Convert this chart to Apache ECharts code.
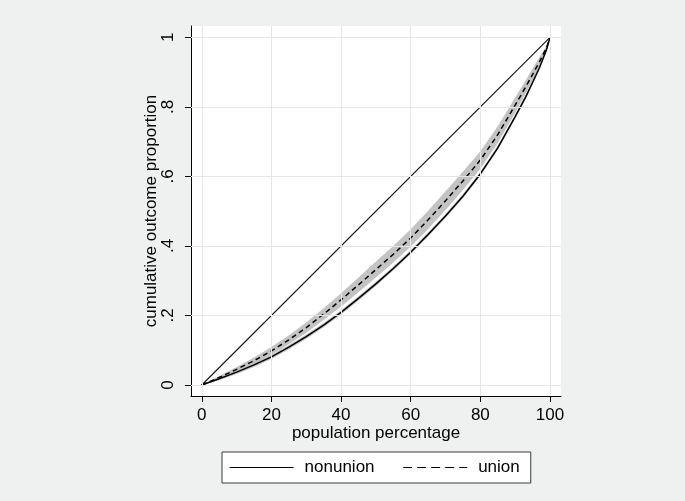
<!DOCTYPE html>
<html>
<head>
<meta charset="utf-8">
<script src="https://cdn.jsdelivr.net/npm/echarts@6/dist/echarts.min.js"></script>
<style>
  html, body { margin: 0; padding: 0; background: #eff1f0; }
  #chart { width: 685px; height: 501px; }
</style>
</head>
<body>
<div id="chart"></div>
<script>
// Lorenz curves: cumulative share of outcome vs. population percentage
const popPct = [0, 5, 10, 15, 20, 25, 30, 35, 40, 45, 50, 55, 60, 65, 70, 75, 80, 85, 90, 93, 95, 97, 99, 100];

const nonunion      = [0, 0.018, 0.037, 0.058, 0.081, 0.109, 0.139, 0.172, 0.209, 0.249, 0.291, 0.335, 0.382, 0.433, 0.486, 0.543, 0.607, 0.682, 0.772, 0.828, 0.870, 0.913, 0.964, 1];
const nonunionLower = [0, 0.014, 0.032, 0.052, 0.075, 0.103, 0.133, 0.166, 0.203, 0.243, 0.285, 0.329, 0.376, 0.427, 0.480, 0.537, 0.601, 0.676, 0.766, 0.822, 0.865, 0.909, 0.961, 1];
const nonunionUpper = [0, 0.022, 0.042, 0.064, 0.087, 0.115, 0.145, 0.178, 0.215, 0.255, 0.297, 0.341, 0.388, 0.439, 0.492, 0.549, 0.613, 0.688, 0.778, 0.834, 0.875, 0.917, 0.967, 1];

const union      = [0, 0.022, 0.045, 0.070, 0.098, 0.130, 0.165, 0.204, 0.245, 0.288, 0.332, 0.376, 0.423, 0.475, 0.530, 0.587, 0.647, 0.720, 0.805, 0.857, 0.893, 0.930, 0.970, 1];
const unionLower = [0, 0.018, 0.038, 0.061, 0.087, 0.117, 0.150, 0.187, 0.226, 0.267, 0.309, 0.352, 0.398, 0.449, 0.503, 0.561, 0.622, 0.696, 0.783, 0.838, 0.876, 0.917, 0.964, 1];
const unionUpper = [0, 0.026, 0.052, 0.079, 0.109, 0.143, 0.180, 0.221, 0.264, 0.309, 0.355, 0.400, 0.448, 0.501, 0.557, 0.613, 0.672, 0.744, 0.827, 0.876, 0.910, 0.943, 0.976, 1];

// line of perfect equality
const equalityX = [0, 100];
const equalityY = [0, 1];

const xTicks = [0, 20, 40, 60, 80, 100];
const yTicks = [0, 0.2, 0.4, 0.6, 0.8, 1];

const FONT = '"Liberation Sans", Arial, Helvetica, sans-serif';
const zip = (xs, ys) => xs.map((x, i) => [x, ys[i]]);

function band(name, lower, upper) {
  return {
    type: 'custom',
    name: name,
    silent: true,
    z: 2,
    data: [[0, 0]],
    encode: { x: 0, y: 1 },
    renderItem: function (params, api) {
      const pts = [];
      for (let i = 0; i < popPct.length; i++) pts.push(api.coord([popPct[i], upper[i]]));
      for (let i = popPct.length - 1; i >= 0; i--) pts.push(api.coord([popPct[i], lower[i]]));
      return { type: 'polygon', shape: { points: pts }, style: { fill: '#c3c3c3' } };
    }
  };
}

const chart = echarts.init(document.getElementById('chart'), null, { renderer: 'canvas' });

chart.setOption({
  backgroundColor: '#eff1f0',
  animation: false,
  textStyle: { fontFamily: FONT },
  grid: {
    left: 191, top: 26, width: 370, height: 370,
    show: true, backgroundColor: '#ffffff', borderWidth: 0
  },
  xAxis: {
    type: 'value',
    min: -3.1, max: 103.16,
    name: 'population percentage',
    nameLocation: 'middle',
    nameGap: 29,
    nameMoveOverlap: false,
    nameTextStyle: { fontSize: 17, color: '#000', fontFamily: FONT },
    axisLine: { show: true, onZero: false, lineStyle: { color: '#000', width: 1 } },
    axisTick: { show: true, length: 6, customValues: xTicks, lineStyle: { color: '#000' } },
    axisLabel: { customValues: xTicks, fontSize: 17, color: '#000', margin: 11, fontFamily: FONT },
    splitLine: { show: false }
  },
  yAxis: {
    type: 'value',
    min: -0.0316, max: 1.0325,
    name: 'cumulative outcome proportion',
    nameLocation: 'middle',
    nameGap: 31,
    nameMoveOverlap: false,
    nameTextStyle: { fontSize: 17, color: '#000', fontFamily: FONT },
    axisLine: { show: true, onZero: false, lineStyle: { color: '#000', width: 1 } },
    axisTick: { show: true, length: 6, customValues: yTicks, lineStyle: { color: '#000' } },
    axisLabel: {
      customValues: yTicks, fontSize: 17, color: '#000', rotate: 90, margin: 14, fontFamily: FONT,
      formatter: v => (v === 0 ? '0' : v === 1 ? '1' : String(v).replace(/^0/, ''))
    },
    splitLine: { show: false }
  },
  legend: {
    data: [
      { name: 'nonunion', lineStyle: { type: 'solid', width: 1.2 } },
      { name: 'union', lineStyle: { type: [9, 5], width: 1.2 } }
    ],
    left: 222, top: 452,
    orient: 'horizontal',
    itemWidth: 64, itemHeight: 14, itemGap: 28,
    padding: [7, 11, 7, 7],
    backgroundColor: '#ffffff',
    borderColor: '#3a3a3a', borderWidth: 1, borderRadius: 0,
    itemStyle: { opacity: 0 },
    textStyle: { fontSize: 17, color: '#000', fontFamily: FONT, padding: [0, 0, 0, 6] },
    selectedMode: false
  },
  series: [
    {
      // light reference grid
      type: 'line', name: 'gridlines', data: [], z: 1, silent: true,
      markLine: {
        silent: true, symbol: 'none', animation: false,
        label: { show: false },
        lineStyle: { color: '#e6e6e6', width: 1, type: 'solid' },
        data: xTicks.map(v => ({ xAxis: v })).concat(yTicks.map(v => ({ yAxis: v })))
      }
    },
    band('union band', unionLower, unionUpper),
    band('nonunion band', nonunionLower, nonunionUpper),
    {
      type: 'line', name: 'equality', data: zip(equalityX, equalityY), z: 3,
      symbol: 'none', silent: true,
      lineStyle: { color: '#111', width: 1.1 }
    },
    {
      type: 'line', name: 'nonunion', data: zip(popPct, nonunion), z: 4,
      symbol: 'none', silent: true,
      itemStyle: { color: '#000' },
      lineStyle: { color: '#000', width: 1.5, type: 'solid' }
    },
    {
      type: 'line', name: 'union', data: zip(popPct, union), z: 4,
      symbol: 'none', silent: true,
      itemStyle: { color: '#000' },
      lineStyle: { color: '#000', width: 1.5, type: [5, 3.5] }
    }
  ]
});
</script>
</body>
</html>
